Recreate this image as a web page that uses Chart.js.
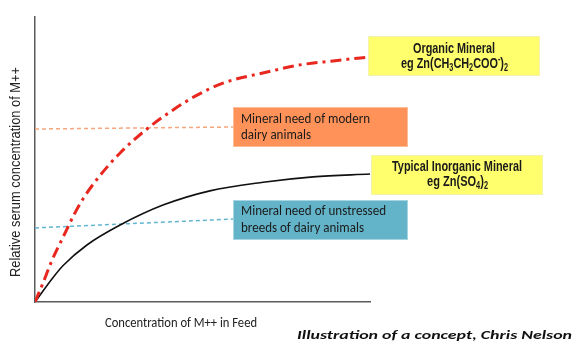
<!DOCTYPE html>
<html><head><meta charset="utf-8">
<script src="https://cdn.jsdelivr.net/npm/chart.js@4.4.0/dist/chart.umd.min.js"></script>
<style>html,body{margin:0;padding:0;background:#fff;overflow:hidden}canvas{display:block}</style>
</head><body>
<canvas id="c" width="587" height="356"></canvas>
<script>
// ---- data (relative units, 0-100) ----
const inorganicFeed  = [0, 5.4, 8.4, 15.5, 25.4, 38.2, 52.2, 68.1, 83.0, 100];
const inorganicSerum = [0, 8.6, 12.8, 20.0, 27.0, 34.0, 39.0, 42.0, 43.9, 44.9];
const organicFeed    = [0, 2.4, 5.1, 8.4, 11.9, 14.5, 18.8, 25.4, 33.4, 41.2, 48.4, 56.1, 69.3, 79.1, 89.0, 100];
const organicSerum   = [0, 6.7, 14.7, 22.8, 31.2, 36.5, 43.5, 52.3, 60.7, 67.4, 72.6, 76.8, 80.7, 83.2, 84.6, 86.0];
const needFeed       = [0, 59.1];
const needModern     = [60.7, 61.4];
const needUnstressed = [26.0, 29.1];
const seriesNames = ['Organic Mineral', 'Typical Inorganic Mineral', 'Mineral need of modern dairy animals', 'Mineral need of unstressed breeds of dairy animals'];
const xTitle = 'Concentration of M++ in Feed';
const yTitle = 'Relative serum concentration of M++';
const credit = 'Illustration of a concept, Chris Nelson';

const pts = (xs, ys) => xs.map((x, i) => ({x, y: ys[i]}));

const CAL = 'Carlito, Lato, "Open Sans", sans-serif';
const NARROW = '"Liberation Sans Narrow", "Liberation Sans", Arial, sans-serif';
const ARIAL = '"Liberation Sans", Arial, sans-serif';

// rich text: segments [text, mode]
function drawRich(ctx, segs, x, cy, size, family, style, targetW, align, color, rot) {
  const fontFor = m => style + ' ' + (m ? Math.round(size * 0.66) : size) + 'px ' + family;
  let W = 0;
  const ws = segs.map(([t, m]) => { ctx.font = fontFor(m); const w = ctx.measureText(t).width; W += w; return w; });
  const sx = targetW ? targetW / W : 1;
  ctx.save();
  ctx.translate(x, cy);
  if (rot) ctx.rotate(rot);
  ctx.scale(sx, 1);
  let start = align === 'center' ? -W / 2 : 0;
  ctx.fillStyle = color;
  ctx.textBaseline = 'middle';
  ctx.textAlign = 'left';
  segs.forEach(([t, m], i) => {
    ctx.font = fontFor(m);
    const dy = m === 'sub' ? size * 0.3 : m === 'sup' ? -size * 0.3 : 0;
    ctx.fillText(t, start, dy);
    start += ws[i];
  });
  ctx.restore();
}

const boxes = [
  {x: 368, y: 36, w: 172, h: 40, fill: '#ffff6e', stroke: '#f3f3b0',
   lines: [
     {segs: [['Organic Mineral']], cx: 454, cy: 49, size: 15, fam: NARROW, st: 'bold', w: 82, align: 'center'},
     {segs: [['eg Zn(CH'], ['3', 'sub'], ['CH'], ['2', 'sub'], ['COO'], ['-', 'sup'], [')'], ['2', 'sub']], cx: 454.5, cy: 64, size: 15, fam: NARROW, st: 'bold', w: 107, align: 'center'}
   ]},
  {x: 371, y: 155, w: 172, h: 40, fill: '#ffff6e', stroke: '#f3f3b0',
   lines: [
     {segs: [['Typical Inorganic Mineral']], cx: 457, cy: 167, size: 15, fam: NARROW, st: 'bold', w: 130, align: 'center'},
     {segs: [['eg Zn(SO'], ['4', 'sub'], [')'], ['2', 'sub']], cx: 457.5, cy: 182, size: 15, fam: NARROW, st: 'bold', w: 61, align: 'center'}
   ]},
  {x: 233, y: 107, w: 175, h: 40, fill: '#ff9259', stroke: '#fbbc98',
   lines: [
     {segs: [['Mineral need of modern']], cx: 241, cy: 119, size: 14.5, fam: CAL, st: 'normal', w: 129, align: 'left'},
     {segs: [['dairy animals']], cx: 241, cy: 135, size: 14.5, fam: CAL, st: 'normal', w: 70, align: 'left'}
   ]},
  {x: 233, y: 200, w: 175, h: 40, fill: '#63b4c9', stroke: '#a8d5e2',
   lines: [
     {segs: [['Mineral need of unstressed']], cx: 241, cy: 211, size: 14.5, fam: CAL, st: 'normal', w: 145, align: 'left'},
     {segs: [['breeds of dairy animals']], cx: 241, cy: 228, size: 14.5, fam: CAL, st: 'normal', w: 123, align: 'left'}
   ]}
];

const overlay = {
  id: 'overlay',
  afterDatasetsDraw(chart) {
    const ctx = chart.ctx;
    boxes.forEach(b => {
      ctx.save();
      ctx.fillStyle = b.fill;
      ctx.fillRect(b.x, b.y, b.w, b.h);
      ctx.strokeStyle = b.stroke;
      ctx.lineWidth = 1;
      ctx.strokeRect(b.x + 0.5, b.y + 0.5, b.w - 1, b.h - 1);
      ctx.restore();
      b.lines.forEach(l => drawRich(ctx, l.segs, l.cx, l.cy, l.size, l.fam, l.st, l.w, l.align, '#1a1a1a'));
    });
    drawRich(ctx, [[xTitle]], 181, 323, 14.5, CAL, 'normal', 152, 'center', '#222');
    drawRich(ctx, [[credit]], 434.5, 336, 12.5, CAL, 'italic bold', 275, 'center', '#111');
    drawRich(ctx, [[yTitle]], 16, 172, 14, ARIAL, 'normal', 210, 'center', '#222', -Math.PI / 2);
  }
};

new Chart(document.getElementById('c'), {
  type: 'line',
  data: {
    datasets: [
      {label: seriesNames[0], data: pts(organicFeed, organicSerum), borderColor: '#e8271f', borderWidth: 3,
       borderDash: [11, 5, 3, 5], pointRadius: 0, cubicInterpolationMode: 'monotone', fill: false},
      {label: seriesNames[1], data: pts(inorganicFeed, inorganicSerum), borderColor: '#111', borderWidth: 1.6,
       pointRadius: 0, cubicInterpolationMode: 'monotone', fill: false},
      {label: seriesNames[2], data: pts(needFeed, needModern), borderColor: '#f6a67c', borderWidth: 1.5,
       borderDash: [4, 3], pointRadius: 0, fill: false},
      {label: seriesNames[3], data: pts(needFeed, needUnstressed), borderColor: '#62b5cf', borderWidth: 1.5,
       borderDash: [4, 3], pointRadius: 0, fill: false}
    ]
  },
  options: {
    responsive: false, animation: false, devicePixelRatio: 1,
    layout: {padding: {left: 35, right: 217, top: 17, bottom: 54}},
    plugins: {legend: {display: false}, tooltip: {enabled: false}},
    scales: {
      x: {type: 'linear', min: 0, max: 100, ticks: {display: false}, grid: {display: false, drawTicks: false},
          border: {display: true, color: '#5a5a5a', width: 1.5}},
      y: {type: 'linear', min: 0, max: 100, ticks: {display: false}, grid: {display: false, drawTicks: false},
          border: {display: true, color: '#5a5a5a', width: 1.5}}
    }
  },
  plugins: [overlay]
});
</script>
</body></html>
